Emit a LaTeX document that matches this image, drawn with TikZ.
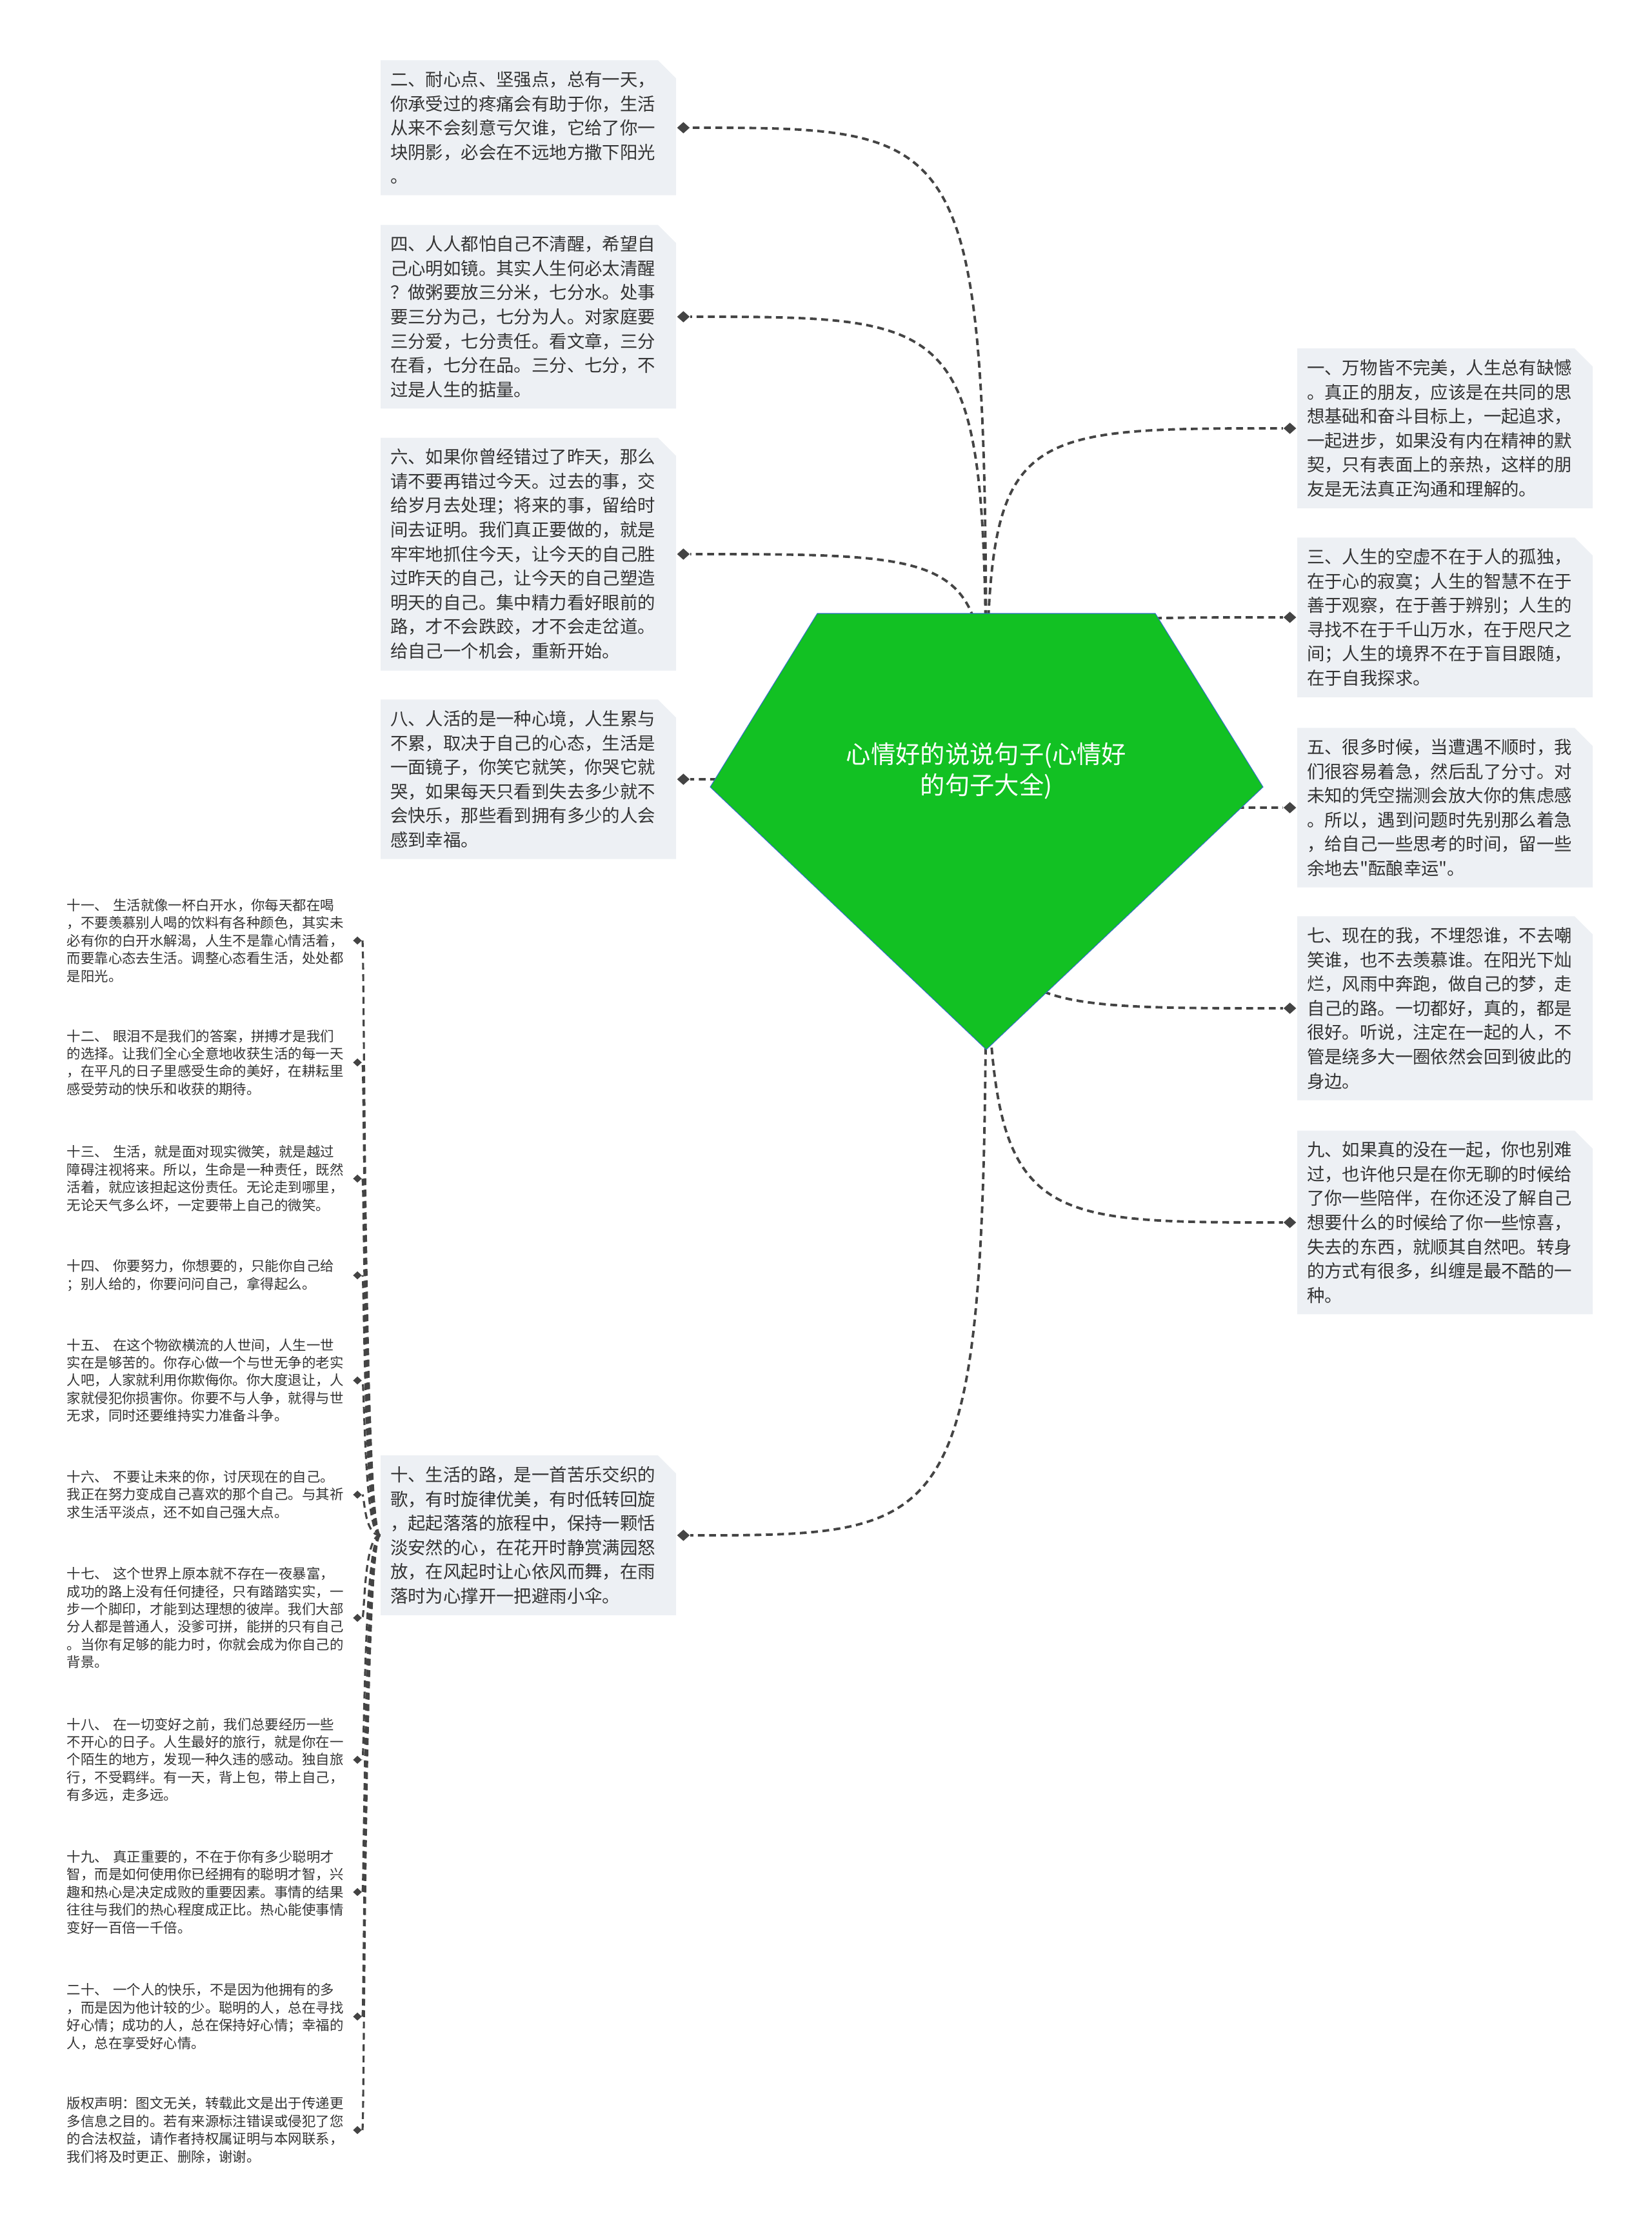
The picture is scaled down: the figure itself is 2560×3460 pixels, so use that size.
\documentclass[tikz,border=0pt]{standalone}
\usepackage{fontspec}
\setmainfont{Noto Sans CJK SC}
\setmonofont{Noto Sans CJK SC}
\usepackage{tikz}
\usetikzlibrary{positioning,shapes.geometric,shapes.misc}
\definecolor{leafgreen}{RGB}{18,193,35}
\definecolor{edgeblue}{RGB}{50,110,200}
\definecolor{boxgray}{RGB}{237,240,244}
\definecolor{inkgray}{RGB}{51,51,51}
\definecolor{linkgray}{RGB}{68,68,68}

\begin{document}
\begin{tikzpicture}[x=0.1mm, y=-0.1mm,
  every node/.style={text=inkgray},
  card/.style={chamfered rectangle, chamfered rectangle corners=north east,
    chamfered rectangle xsep=1.4mm, chamfered rectangle ysep=1.4mm,
    fill=boxgray, inner xsep=0pt, inner ysep=0.3mm, minimum width=45.8mm,
    text width=42.8mm, align=left, font=\fontsize{7.8}{10.7}\selectfont},
  note/.style={inner sep=0pt, text width=43.4mm, align=left, font=\fontsize{6.1}{7.8}\selectfont},
  tip/.style={diamond, fill=linkgray, inner sep=0pt, minimum width=2mm, minimum height=1.8mm},
  smalltip/.style={tip, minimum width=1.4mm, minimum height=1.3mm},
  link/.style={draw=linkgray, line width=1.1pt, dash pattern=on 3pt off 2pt},
  sublink/.style={link, line width=0.9pt}
]
\useasboundingbox (0,0) rectangle (2560,3460);

\node[card] (c2) at (819,198) {二、耐心点、坚强点，总有一天，\\你承受过的疼痛会有助于你，生活\\从来不会刻意亏欠谁，它给了你一\\块阴影，必会在不远地方撒下阳光\\。};
\node[card] (c4) at (819,491) {四、人人都怕自己不清醒，希望自\\己心明如镜。其实人生何必太清醒\\？做粥要放三分米，七分水。处事\\要三分为己，七分为人。对家庭要\\三分爱，七分责任。看文章，三分\\在看，七分在品。三分、七分，不\\过是人生的掂量。};
\node[card] (c6) at (819,859) {六、如果你曾经错过了昨天，那么\\请不要再错过今天。过去的事，交\\给岁月去处理；将来的事，留给时\\间去证明。我们真正要做的，就是\\牢牢地抓住今天，让今天的自己胜\\过昨天的自己，让今天的自己塑造\\明天的自己。集中精力看好眼前的\\路，才不会跌跤，才不会走岔道。\\给自己一个机会，重新开始。};
\node[card] (c8) at (819,1208) {八、人活的是一种心境，人生累与\\不累，取决于自己的心态，生活是\\一面镜子，你笑它就笑，你哭它就\\哭，如果每天只看到失去多少就不\\会快乐，那些看到拥有多少的人会\\感到幸福。};
\node[card] (c10) at (819,2380) {十、生活的路，是一首苦乐交织的\\歌，有时旋律优美，有时低转回旋\\，起起落落的旅程中，保持一颗恬\\淡安然的心，在花开时静赏满园怒\\放，在风起时让心依风而舞，在雨\\落时为心撑开一把避雨小伞。};

\node[card] (c1) at (2240,664) {一、万物皆不完美，人生总有缺憾\\。真正的朋友，应该是在共同的思\\想基础和奋斗目标上，一起追求，\\一起进步，如果没有内在精神的默\\契，只有表面上的亲热，这样的朋\\友是无法真正沟通和理解的。};
\node[card] (c3) at (2240,957) {三、人生的空虚不在于人的孤独，\\在于心的寂寞；人生的智慧不在于\\善于观察，在于善于辨别；人生的\\寻找不在于千山万水，在于咫尺之\\间；人生的境界不在于盲目跟随，\\在于自我探求。};
\node[card] (c5) at (2240,1252) {五、很多时候，当遭遇不顺时，我\\们很容易着急，然后乱了分寸。对\\未知的凭空揣测会放大你的焦虑感\\。所以，遇到问题时先别那么着急\\，给自己一些思考的时间，留一些\\余地去\texttt{"}酝酿幸运\texttt{"}。};
\node[card] (c7) at (2240,1563) {七、现在的我，不埋怨谁，不去嘲\\笑谁，也不去羡慕谁。在阳光下灿\\烂，风雨中奔跑，做自己的梦，走\\自己的路。一切都好，真的，都是\\很好。听说，注定在一起的人，不\\管是绕多大一圈依然会回到彼此的\\身边。};
\node[card] (c9) at (2240,1895) {九、如果真的没在一起，你也别难\\过，也许他只是在你无聊的时候给\\了你一些陪伴，在你还没了解自己\\想要什么的时候给了你一些惊喜，\\失去的东西，就顺其自然吧。转身\\的方式有很多，纠缠是最不酷的一\\种。};

\node[note, anchor=west] (n11) at (103,1458) {十一、 生活就像一杯白开水，你每天都在喝\\，不要羡慕别人喝的饮料有各种颜色，其实未\\必有你的白开水解渴，人生不是靠心情活着，\\而要靠心态去生活。调整心态看生活，处处都\\是阳光。};
\node[note, anchor=west] (n12) at (103,1647) {十二、 眼泪不是我们的答案，拼搏才是我们\\的选择。让我们全心全意地收获生活的每一天\\，在平凡的日子里感受生命的美好，在耕耘里\\感受劳动的快乐和收获的期待。};
\node[note, anchor=west] (n13) at (103,1827) {十三、 生活，就是面对现实微笑，就是越过\\障碍注视将来。所以，生命是一种责任，既然\\活着，就应该担起这份责任。无论走到哪里，\\无论天气多么坏，一定要带上自己的微笑。};
\node[note, anchor=west] (n14) at (103,1977) {十四、 你要努力，你想要的，只能你自己给\\；别人给的，你要问问自己，拿得起么。};
\node[note, anchor=west] (n15) at (103,2140) {十五、 在这个物欲横流的人世间，人生一世\\实在是够苦的。你存心做一个与世无争的老实\\人吧，人家就利用你欺侮你。你大度退让，人\\家就侵犯你损害你。你要不与人争，就得与世\\无求，同时还要维持实力准备斗争。};
\node[note, anchor=west] (n16) at (103,2317) {十六、 不要让未来的你，讨厌现在的自己。\\我正在努力变成自己喜欢的那个自己。与其祈\\求生活平淡点，还不如自己强大点。};
\node[note, anchor=west] (n17) at (103,2508) {十七、 这个世界上原本就不存在一夜暴富，\\成功的路上没有任何捷径，只有踏踏实实，一\\步一个脚印，才能到达理想的彼岸。我们大部\\分人都是普通人，没爹可拼，能拼的只有自己\\。当你有足够的能力时，你就会成为你自己的\\背景。};
\node[note, anchor=west] (n18) at (103,2728) {十八、 在一切变好之前，我们总要经历一些\\不开心的日子。人生最好的旅行，就是你在一\\个陌生的地方，发现一种久违的感动。独自旅\\行，不受羁绊。有一天，背上包，带上自己，\\有多远，走多远。};
\node[note, anchor=west] (n19) at (103,2933) {十九、 真正重要的，不在于你有多少聪明才\\智，而是如何使用你已经拥有的聪明才智，兴\\趣和热心是决定成败的重要因素。事情的结果\\往往与我们的热心程度成正比。热心能使事情\\变好一百倍一千倍。};
\node[note, anchor=west] (n20) at (103,3126) {二十、 一个人的快乐，不是因为他拥有的多\\，而是因为他计较的少。聪明的人，总在寻找\\好心情；成功的人，总在保持好心情；幸福的\\人，总在享受好心情。};
\node[note, anchor=west] (ncr) at (103,3302) {版权声明：图文无关，转载此文是出于传递更\\多信息之目的。若有来源标注错误或侵犯了您\\的合法权益，请作者持权属证明与本网联系，\\我们将及时更正、删除，谢谢。};

\foreach \n in {2,4,6,8,10}
  \node[tip, right=0mm of c\n] (d\n) {};
\foreach \n in {1,3,5,7,9}
  \node[tip, left=0mm of c\n] (d\n) {};
\foreach \n in {11,12,13,14,15,16,17,18,19,20,cr}
  \node[smalltip, right=0.8mm of n\n] (e\n) {};

\coordinate (hub) at (1529,1220);
\coordinate (spine) at (565,0);

\foreach \n in {1,...,10}
  \draw[link] (hub) .. controls (hub |- d\n) .. (d\n);
\foreach \n in {11,12,13,14,15,16,17,18,19,20,cr}
  \draw[sublink] (c10.west) .. controls ([xshift=-2.5mm]c10.west) and (spine |- e\n) .. (e\n);

\draw[fill=leafgreen, draw=edgeblue, line width=0.3pt]
  (1267,951) -- (1791,951) -- (1958,1220) -- (1529,1627) -- (1101,1220) -- cycle;
\node[text=white, align=center, font=\fontsize{10.9}{13.9}\selectfont] (root) at (1529,1195)
  {心情好的说说句子(心情好\\的句子大全)};
\end{tikzpicture}
\end{document}
